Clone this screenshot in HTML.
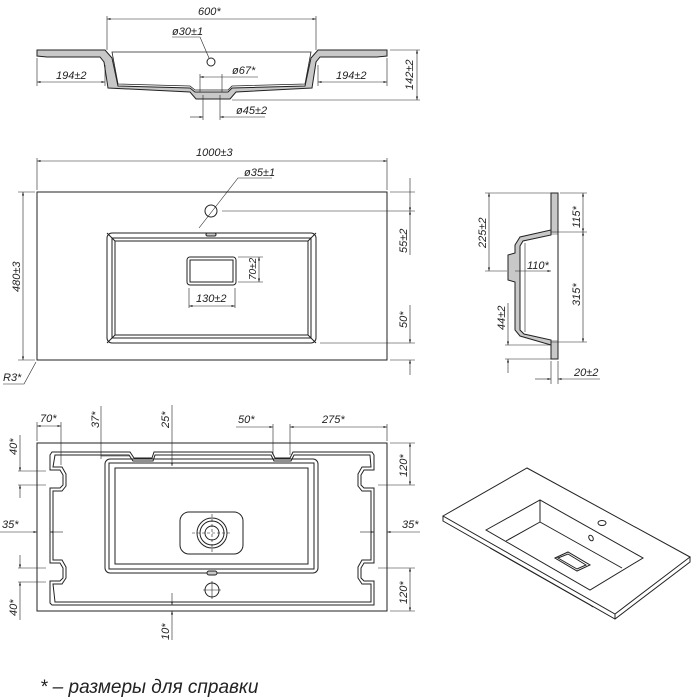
<!DOCTYPE html>
<html><head><meta charset="utf-8"><style>
html,body{margin:0;padding:0;background:#fff}
svg{display:block}
text{font-family:"Liberation Sans",sans-serif;font-style:italic;font-size:11px;fill:#222}
.l{stroke:#222;stroke-width:1;fill:none}
.t{stroke:#222;stroke-width:0.6;fill:none}
.h{stroke:#222;stroke-width:1;fill:#c8c8c8}
</style></head><body>
<svg width="700" height="700" viewBox="0 0 700 700" xmlns="http://www.w3.org/2000/svg">
<defs><marker id="a" viewBox="0 0 10 10" refX="10" refY="5" markerWidth="6" markerHeight="6" orient="auto-start-reverse"><path d="M0,2 L10,5 L0,8z" fill="#222"/></marker></defs>

<!-- TOP SECTION VIEW -->
<path class="h" d="M37,50 L105,50 L112,58 L118,86 L190,88 L195,92 L228,92 L232,88 L305,86 L311,58 L318,50 L387,50 L387,56 L377,57 L320,57 L316,62 L312,88 L236,92 L230,99 L196,99 L190,92 L108,88 L104,62 L100,57 L47,57 L37,56Z"/>
<path d="M112,52 L311,52 L305,84 L232,86 L228,90 L195,90 L190,86 L118,84Z" fill="#fff" stroke="#222" stroke-width="0.8"/>
<circle class="l" cx="211" cy="62" r="4"/>
<line class="t" x1="107" y1="50" x2="107" y2="16"/><line class="t" x1="316" y1="50" x2="316" y2="16"/>
<line class="t" x1="107" y1="19" x2="316" y2="19" marker-start="url(#a)" marker-end="url(#a)"/>
<text x="198" y="15">600*</text>
<text x="172" y="35">ø30±1</text><path class="t" d="M172,37 L200,37 L209,58"/>
<line class="t" x1="37" y1="58" x2="37" y2="86"/><line class="t" x1="105" y1="65" x2="105" y2="86"/>
<line class="t" x1="37" y1="82" x2="105" y2="82" marker-start="url(#a)" marker-end="url(#a)"/>
<text x="56" y="79">194±2</text>
<line class="t" x1="318" y1="65" x2="318" y2="86"/><line class="t" x1="387" y1="58" x2="387" y2="86"/>
<line class="t" x1="318" y1="82" x2="387" y2="82" marker-start="url(#a)" marker-end="url(#a)"/>
<text x="336" y="79">194±2</text>
<line class="t" x1="390" y1="50" x2="420" y2="50"/><line class="t" x1="232" y1="100" x2="420" y2="100"/>
<line class="t" x1="417" y1="50" x2="417" y2="100" marker-start="url(#a)" marker-end="url(#a)"/>
<text transform="translate(413,90) rotate(-90)">142±2</text>
<line class="t" x1="200" y1="74" x2="200" y2="92"/><line class="t" x1="222" y1="74" x2="222" y2="92"/>
<line class="t" x1="200" y1="77" x2="258" y2="77" marker-start="url(#a)"/><text x="232" y="74">ø67*</text>
<line class="t" x1="203" y1="95" x2="203" y2="120"/><line class="t" x1="220" y1="95" x2="220" y2="120"/>
<line class="t" x1="190" y1="117" x2="203" y2="117" marker-end="url(#a)"/><line class="t" x1="220" y1="117" x2="265" y2="117" marker-start="url(#a)"/>
<text x="236" y="114">ø45±2</text>

<!-- PLAN VIEW -->
<rect class="l" x="37" y="192" width="350" height="168"/>
<rect class="l" x="107" y="233" width="209" height="110" rx="5"/>
<rect class="l" x="112" y="238" width="199" height="100"/>
<rect class="l" x="115" y="241" width="193" height="94"/>
<line class="l" x1="107" y1="233" x2="115" y2="241"/><line class="l" x1="316" y1="233" x2="308" y2="241"/>
<line class="l" x1="107" y1="343" x2="115" y2="335"/><line class="l" x1="316" y1="343" x2="308" y2="335"/>
<rect class="l" x="187" y="257" width="49" height="28" rx="3"/><rect class="l" x="190" y="260" width="43" height="22"/>
<circle class="l" cx="211" cy="211" r="6"/>
<rect class="h" x="206" y="233" width="10" height="3" rx="1.5"/>
<line class="t" x1="37" y1="190" x2="37" y2="158"/><line class="t" x1="387" y1="190" x2="387" y2="158"/>
<line class="t" x1="37" y1="161" x2="387" y2="161" marker-start="url(#a)" marker-end="url(#a)"/>
<text x="196" y="156">1000±3</text>
<text x="244" y="176">ø35±1</text><path class="t" d="M272,178 L238,178 L199,228"/>
<line class="t" x1="35" y1="192" x2="18" y2="192"/><line class="t" x1="35" y1="360" x2="18" y2="360"/>
<line class="t" x1="23" y1="192" x2="23" y2="360" marker-start="url(#a)" marker-end="url(#a)"/>
<text transform="translate(20,292) rotate(-90)">480±3</text>
<line class="t" x1="390" y1="192" x2="415" y2="192"/><line class="t" x1="222" y1="211" x2="415" y2="211"/>
<line class="t" x1="320" y1="343" x2="415" y2="343"/><line class="t" x1="390" y1="360" x2="415" y2="360"/>
<line class="t" x1="410" y1="178" x2="410" y2="211" marker-end="url(#a)"/>
<line class="t" x1="410" y1="211" x2="410" y2="255" marker-start="url(#a)"/>
<text transform="translate(407,253) rotate(-90)">55±2</text>
<line class="t" x1="410" y1="305" x2="410" y2="343" marker-end="url(#a)"/>
<line class="t" x1="410" y1="360" x2="410" y2="375" marker-start="url(#a)"/>
<text transform="translate(407,328) rotate(-90)">50*</text>
<line class="t" x1="238" y1="257" x2="263" y2="257"/><line class="t" x1="238" y1="282" x2="263" y2="282"/>
<line class="t" x1="259" y1="257" x2="259" y2="282" marker-start="url(#a)" marker-end="url(#a)"/>
<text transform="translate(256,280) rotate(-90)" style="font-size:10px">70±2</text>
<line class="t" x1="189" y1="288" x2="189" y2="308"/><line class="t" x1="235" y1="288" x2="235" y2="308"/>
<line class="t" x1="189" y1="306" x2="235" y2="306" marker-start="url(#a)" marker-end="url(#a)"/>
<text x="196" y="302">130±2</text>
<text x="3" y="381">R3*</text><path class="t" d="M3,384 L24,384 L36,362"/>

<!-- SIDE VIEW -->
<path class="h" d="M551,193 L558,193 L558,359 L551,359 L551,345 L520,336 L515,330 L515,282 L508,280 L508,255 L515,253 L515,245 L520,237 L551,230Z"/>
<path d="M551,235 L523,241 L520,246 L520,330 L524,334 L551,340 L558,340 L558,235Z" fill="#fff" stroke="none"/>
<path class="l" d="M551,230 L551,235 L523,241 L520,246 L520,330 L524,334 L551,340 L551,345"/>
<line class="l" x1="558" y1="193" x2="558" y2="359"/>
<line class="t" x1="525" y1="243" x2="525" y2="332"/>
<line class="t" x1="551" y1="193" x2="485" y2="193"/><line class="t" x1="507" y1="271" x2="485" y2="271"/>
<line class="t" x1="489" y1="193" x2="489" y2="271" marker-start="url(#a)" marker-end="url(#a)"/>
<text transform="translate(486,248) rotate(-90)">225±2</text>
<line class="t" x1="515" y1="271" x2="551" y2="271" marker-end="url(#a)"/>
<text x="527" y="269">110*</text>
<line class="t" x1="560" y1="193" x2="587" y2="193"/><line class="t" x1="551" y1="232" x2="587" y2="232"/><line class="t" x1="551" y1="342" x2="587" y2="342"/>
<line class="t" x1="583" y1="193" x2="583" y2="232" marker-start="url(#a)" marker-end="url(#a)"/>
<line class="t" x1="583" y1="232" x2="583" y2="342" marker-start="url(#a)" marker-end="url(#a)"/>
<text transform="translate(580,228) rotate(-90)">115*</text>
<text transform="translate(580,306) rotate(-90)">315*</text>
<line class="t" x1="505" y1="345" x2="551" y2="345"/><line class="t" x1="505" y1="359" x2="551" y2="359"/>
<line class="t" x1="508" y1="303" x2="508" y2="345" marker-end="url(#a)"/>
<line class="t" x1="508" y1="359" x2="508" y2="373" marker-start="url(#a)"/>
<text transform="translate(505,330) rotate(-90)">44±2</text>
<line class="t" x1="551" y1="361" x2="551" y2="384"/><line class="t" x1="558" y1="361" x2="558" y2="384"/>
<line class="t" x1="535" y1="379" x2="551" y2="379" marker-end="url(#a)"/><line class="t" x1="558" y1="379" x2="600" y2="379" marker-start="url(#a)"/>
<text x="574" y="376">20±2</text>

<!-- BOTTOM VIEW -->
<rect class="l" x="37" y="443" width="350" height="168"/>
<path class="l" d="M52,452 L130,452 L134,458 L152,458 L154,452 L272,452 L275,458 L290,458 L293,452 L372,452 L374,455 L374,470 L364,470 L361,475 L361,485 L364,488 L374,488 L374,563 L364,563 L361,568 L361,578 L364,581 L374,581 L374,605 L52,605 L50,603 L50,581 L60,581 L63,578 L63,568 L60,563 L50,563 L50,488 L60,488 L63,485 L63,475 L60,470 L50,470 L50,455Z"/>
<path class="l" d="M55,455 L129,455 L133,461 L153,461 L155,455 L271,455 L274,461 L291,461 L294,455 L370,455 L371,467 L362,467 L358,474 L358,486 L362,491 L371,491 L371,560 L362,560 L358,567 L358,578 L362,584 L371,584 L371,602 L55,602 L53,584 L62,584 L66,578 L66,567 L62,560 L53,560 L53,491 L62,491 L66,486 L66,474 L62,467 L53,467Z"/>
<rect class="l" x="105" y="459" width="213" height="114" rx="5"/>
<rect class="l" x="109" y="463" width="205" height="106"/>
<rect class="l" x="115" y="468" width="193" height="96"/>
<rect class="l" x="180" y="512" width="63" height="42" rx="9"/>
<circle class="l" cx="212" cy="533" r="15"/><circle class="l" cx="212" cy="533" r="12"/><circle class="l" cx="212" cy="533" r="7"/>
<line class="t" x1="192" y1="533" x2="232" y2="533" stroke-dasharray="3,2"/><line class="t" x1="212" y1="514" x2="212" y2="552" stroke-dasharray="3,2"/>
<rect class="h" x="207" y="571" width="10" height="4" rx="2"/>
<circle class="l" cx="212" cy="590" r="7"/><line class="t" x1="203" y1="590" x2="221" y2="590"/><line class="t" x1="212" y1="581" x2="212" y2="599"/>
<line class="t" x1="37" y1="441" x2="37" y2="422"/><line class="t" x1="61" y1="465" x2="61" y2="422"/>
<line class="t" x1="37" y1="426" x2="61" y2="426" marker-start="url(#a)" marker-end="url(#a)"/><text x="40" y="422">70*</text>
<line class="t" x1="101" y1="406" x2="101" y2="459"/><line class="t" x1="101" y1="456" x2="130" y2="456"/>
<text transform="translate(99,428) rotate(-90)">37*</text>
<line class="t" x1="172" y1="405" x2="172" y2="466" marker-end="url(#a)"/>
<text transform="translate(169,428) rotate(-90)">25*</text>
<line class="t" x1="273" y1="424" x2="273" y2="455"/><line class="t" x1="290" y1="424" x2="290" y2="455"/>
<line class="t" x1="236" y1="427" x2="273" y2="427" marker-end="url(#a)"/>
<line class="t" x1="290" y1="427" x2="387" y2="427" marker-start="url(#a)" marker-end="url(#a)"/>
<line class="t" x1="387" y1="424" x2="387" y2="441"/>
<text x="238" y="423">50*</text><text x="322" y="423">275*</text>
<line class="t" x1="18" y1="471" x2="46" y2="471"/><line class="t" x1="18" y1="485" x2="46" y2="485"/>
<line class="t" x1="20" y1="435" x2="20" y2="471" marker-end="url(#a)"/><line class="t" x1="20" y1="485" x2="20" y2="498" marker-start="url(#a)"/>
<text transform="translate(17,455) rotate(-90)">40*</text>
<line class="t" x1="0" y1="532" x2="37" y2="532" marker-end="url(#a)"/><line class="t" x1="50" y1="532" x2="63" y2="532" marker-start="url(#a)"/>
<text x="2" y="528">35*</text>
<line class="t" x1="18" y1="568" x2="46" y2="568"/><line class="t" x1="18" y1="582" x2="46" y2="582"/>
<line class="t" x1="20" y1="555" x2="20" y2="568" marker-end="url(#a)"/><line class="t" x1="20" y1="582" x2="20" y2="620" marker-start="url(#a)"/>
<text transform="translate(17,616) rotate(-90)">40*</text>
<line class="t" x1="378" y1="485" x2="415" y2="485"/><line class="t" x1="378" y1="568" x2="415" y2="568"/>
<line class="t" x1="410" y1="443" x2="410" y2="485" marker-start="url(#a)" marker-end="url(#a)"/>
<line class="t" x1="410" y1="568" x2="410" y2="611" marker-start="url(#a)" marker-end="url(#a)"/>
<line class="t" x1="390" y1="443" x2="415" y2="443"/><line class="t" x1="390" y1="611" x2="415" y2="611"/>
<text transform="translate(407,477) rotate(-90)">120*</text><text transform="translate(407,604) rotate(-90)">120*</text>
<line class="t" x1="360" y1="532" x2="374" y2="532" marker-end="url(#a)"/><line class="t" x1="387" y1="532" x2="420" y2="532" marker-start="url(#a)"/>
<text x="402" y="528">35*</text>
<line class="t" x1="172" y1="593" x2="172" y2="605" marker-end="url(#a)"/><line class="t" x1="172" y1="611" x2="172" y2="640" marker-start="url(#a)"/>
<text transform="translate(169,640) rotate(-90)">10*</text>

<!-- ISOMETRIC -->
<path class="l" d="M443,516 L527,468 L690,557 L615,614 Z"/>
<path class="l" d="M443,516 L443,521 L615,619 L690,562 L690,557"/>
<line class="l" x1="615" y1="614" x2="615" y2="619"/>
<path class="l" d="M490,548 L590,605 L593,607"/>
<path class="l" d="M486,530 L540,500 L643,558 L590,590 Z"/>
<path class="l" d="M540,500 L540,522 L506,541"/>
<path class="l" d="M540,522 L622,568"/>
<path class="l" d="M555,558 L568,552 L590,565 L577,571 Z"/><path class="l" d="M558,558 L568,554 L586,565 L577,569 Z"/>
<ellipse class="l" cx="602" cy="523" rx="4" ry="2.5"/>
<ellipse class="l" cx="591" cy="538" rx="2" ry="3" transform="rotate(-30 591 538)"/>

<text x="40" y="693" style="font-size:19px">*  –  размеры  для  справки</text>
</svg>
</body></html>
